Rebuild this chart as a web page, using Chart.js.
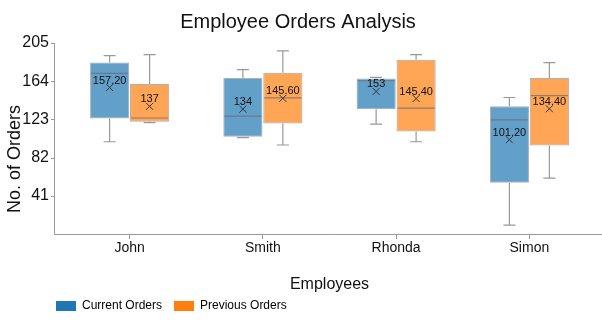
<!DOCTYPE html>
<html>
<head>
<meta charset="utf-8">
<script src="https://cdn.jsdelivr.net/npm/chart.js@4"></script>
<style>
  body { margin: 0; background: #fff; }
</style>
</head>
<body>
<canvas id="ordersChart" width="602" height="323"></canvas>
<script>
// Box plot values
const employees = ['John', 'Smith', 'Rhonda', 'Simon'];

const currentMin    = [99, 103.5, 118, 9.6];
const currentQ1     = [124, 104.5, 134, 55];
const currentMedian = [172.5, 126.5, 164.5, 122.5];
const currentQ3     = [184, 167.5, 167, 137];
const currentMax    = [191.5, 176.5, 168, 146.5];
const currentMean   = [157.2, 134, 153, 101.2];

const previousMin    = [119.5, 95.5, 99, 60];
const previousQ1     = [120.5, 118.5, 110, 95];
const previousMedian = [124.5, 146, 135, 148.5];
const previousQ3     = [161, 173, 187, 167.5];
const previousMax    = [192.5, 196.5, 192.5, 184];
const previousMean   = [137, 145.6, 145.4, 134.4];

const yTicks = [0, 41, 82, 123, 164, 205];

const FONT = '"Liberation Sans", Arial, sans-serif';
const AXIS_COLOR = '#9a9a9a';
const AXIS_X = 54; // y axis line sits a bit left of the first category

function fmtMean(v) {
    return v % 1 === 0 ? String(v) : v.toFixed(2);
}

// whiskers, medians and mean markers on top of the floating bars
const boxPlotExtras = {
    id: 'boxPlotExtras',
    afterLayout(chart) {
        // legend starts under the y axis, not at the canvas edge
        const lg = chart.legend;
        lg.left += 44;
        lg.right += 44;
        lg.top -= 6;
        lg.bottom -= 6;
    },
    afterDatasetsDraw(chart) {
        const ctx = chart.ctx;
        const y = chart.scales.y;
        chart.data.datasets.forEach((ds, i) => {
            const meta = chart.getDatasetMeta(i);
            if (meta.hidden) return;
            const st = ds.stats;
            meta.data.forEach((bar, j) => {
                const x = bar.x;
                const half = bar.width / 2;
                const pMin = y.getPixelForValue(st.min[j]);
                const pQ1 = y.getPixelForValue(st.q1[j]);
                const pMed = y.getPixelForValue(st.median[j]);
                const pQ3 = y.getPixelForValue(st.q3[j]);
                const pMax = y.getPixelForValue(st.max[j]);
                const pMean = y.getPixelForValue(st.mean[j]);

                ctx.save();
                ctx.strokeStyle = '#999';
                ctx.lineWidth = 1.2;
                ctx.beginPath();
                // upper whisker
                ctx.moveTo(x, pQ3);
                ctx.lineTo(x, pMax);
                ctx.moveTo(x - 6, pMax);
                ctx.lineTo(x + 6, pMax);
                // lower whisker
                ctx.moveTo(x, pQ1);
                ctx.lineTo(x, pMin);
                ctx.moveTo(x - 6, pMin);
                ctx.lineTo(x + 6, pMin);
                ctx.stroke();

                // median
                ctx.strokeStyle = 'rgba(110,110,110,0.75)';
                ctx.beginPath();
                ctx.moveTo(x - half + 1, pMed);
                ctx.lineTo(x + half - 1, pMed);
                ctx.stroke();

                // mean cross
                ctx.strokeStyle = '#333';
                ctx.lineWidth = 1;
                ctx.beginPath();
                ctx.moveTo(x - 3.5, pMean - 3.5);
                ctx.lineTo(x + 3.5, pMean + 3.5);
                ctx.moveTo(x + 3.5, pMean - 3.5);
                ctx.lineTo(x - 3.5, pMean + 3.5);
                ctx.stroke();

                ctx.fillStyle = '#111';
                ctx.font = '11px ' + FONT;
                ctx.textAlign = 'center';
                ctx.textBaseline = 'middle';
                ctx.fillText(fmtMean(st.mean[j]), x, pMean - 7);
                ctx.restore();
            });
        });
    },
    afterDraw(chart) {
        // axis lines, y tick marks and y axis title
        const ctx = chart.ctx;
        const area = chart.chartArea;
        const y = chart.scales.y;
        ctx.save();
        ctx.strokeStyle = AXIS_COLOR;
        ctx.lineWidth = 1;
        ctx.beginPath();
        ctx.moveTo(AXIS_X + 0.5, y.getPixelForValue(205));
        ctx.lineTo(AXIS_X + 0.5, area.bottom + 0.5);
        ctx.lineTo(chart.width, area.bottom + 0.5);
        yTicks.forEach(t => {
            if (t === 0) return;
            const py = Math.round(y.getPixelForValue(t)) + 0.5;
            ctx.moveTo(AXIS_X - 3, py);
            ctx.lineTo(AXIS_X + 0.5, py);
        });
        ctx.stroke();

        ctx.translate(15, 159);
        ctx.rotate(-Math.PI / 2);
        ctx.fillStyle = '#111';
        ctx.font = '18px ' + FONT;
        ctx.textAlign = 'center';
        ctx.textBaseline = 'middle';
        ctx.fillText('No. of Orders', 0, 0);
        ctx.restore();
    }
};

const ctx = document.getElementById('ordersChart').getContext('2d');

new Chart(ctx, {
    type: 'bar',
    data: {
        labels: employees,
        datasets: [
            {
                label: 'Current Orders',
                data: employees.map((_, i) => [currentQ1[i], currentQ3[i]]),
                stats: { min: currentMin, q1: currentQ1, median: currentMedian, q3: currentQ3, max: currentMax, mean: currentMean },
                backgroundColor: 'rgba(31, 119, 180, 0.7)',
                borderColor: '#b0b0b0',
                borderWidth: 1,
                borderSkipped: false,
                legendColor: '#1f77b4'
            },
            {
                label: 'Previous Orders',
                data: employees.map((_, i) => [previousQ1[i], previousQ3[i]]),
                stats: { min: previousMin, q1: previousQ1, median: previousMedian, q3: previousQ3, max: previousMax, mean: previousMean },
                backgroundColor: 'rgba(255, 127, 14, 0.7)',
                borderColor: '#b0b0b0',
                borderWidth: 1,
                borderSkipped: false,
                legendColor: '#ff7f0e'
            }
        ]
    },
    options: {
        responsive: false,
        animation: false,
        barPercentage: 0.98,
        categoryPercentage: 0.6,
        layout: {
            padding: { left: 0, right: 6, top: 0, bottom: -5 }
        },
        scales: {
            x: {
                grid: {
                    display: true,
                    drawOnChartArea: false,
                    drawTicks: true,
                    tickLength: 5,
                    offset: false,
                    color: AXIS_COLOR
                },
                border: { display: false },
                ticks: {
                    color: '#111',
                    padding: 1,
                    font: { family: FONT, size: 14 }
                },
                title: {
                    display: true,
                    text: 'Employees',
                    color: '#111',
                    padding: { top: 17, bottom: 0 },
                    font: { family: FONT, size: 16 }
                }
            },
            y: {
                min: 0,
                max: 205,
                afterBuildTicks: scale => {
                    scale.ticks = yTicks.map(v => ({ value: v }));
                },
                afterFit: scale => {
                    scale.width = 63;
                },
                grid: { display: false },
                border: { display: false },
                ticks: {
                    color: '#111',
                    padding: 6,
                    font: { family: FONT, size: 16 },
                    callback: v => (v === 0 ? '' : v)
                }
            }
        },
        plugins: {
            title: {
                display: true,
                text: 'Employee Orders Analysis',
                color: '#111',
                padding: { top: 10, bottom: 9 },
                font: { family: FONT, size: 20, weight: 'normal' }
            },
            legend: {
                position: 'bottom',
                align: 'start',
                labels: {
                    boxWidth: 20,
                    boxHeight: 10,
                    padding: 12,
                    color: '#111',
                    font: { family: FONT, size: 12 },
                    generateLabels: chart => chart.data.datasets.map((ds, i) => ({
                        text: ds.label,
                        fillStyle: ds.legendColor,
                        strokeStyle: ds.legendColor,
                        lineWidth: 0,
                        hidden: !chart.isDatasetVisible(i),
                        datasetIndex: i
                    }))
                }
            },
            tooltip: { enabled: false }
        }
    },
    plugins: [boxPlotExtras]
});
</script>
</body>
</html>
